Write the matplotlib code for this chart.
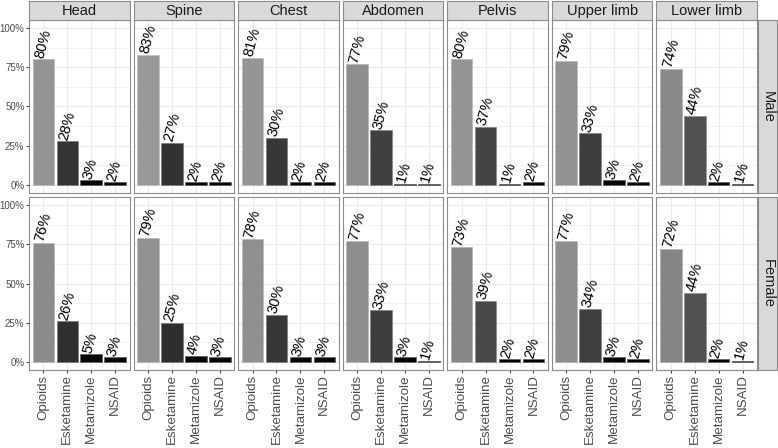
import numpy as np
import matplotlib
matplotlib.use("Agg")
import matplotlib.pyplot as plt
from matplotlib.colors import LinearSegmentedColormap, Normalize

plt.rcParams['font.family'] = ['Liberation Sans', 'DejaVu Sans']

# data (shares of patients, %)
drugs = ['Opioids', 'Esketamine', 'Metamizole', 'NSAID']
regions = ['Head', 'Spine', 'Chest', 'Abdomen', 'Pelvis', 'Upper limb', 'Lower limb']
sexes = ['Male', 'Female']

male = [
    [80, 28, 3, 2],
    [83, 27, 2, 2],
    [81, 30, 2, 2],
    [77, 35, 1, 1],
    [80, 37, 1, 2],
    [79, 33, 3, 2],
    [74, 44, 2, 1],
]
female = [
    [76, 26, 5, 3],
    [79, 25, 4, 3],
    [78, 30, 3, 3],
    [77, 33, 3, 1],
    [73, 39, 2, 2],
    [77, 34, 3, 2],
    [72, 44, 2, 1],
]
values = {'Male': male, 'Female': female}

# fill mapped to value, black -> grey60
cmap = LinearSegmentedColormap.from_list('fillgrey', ['#000000', '#999999'])
vmax = max(max(max(r) for r in male), max(max(r) for r in female)) / 100
norm = Normalize(0, vmax)

W, H = 778, 448
fig = plt.figure(figsize=(W / 100, H / 100), dpi=100)

left, right = 29, 757
gap = 4
pw = (right - left - 6 * gap) / 7
rows_y = [(20, 193), (197, 370)]
strip_top = 1
strip_r = (758, 777)

border_col = '#8c8c8c'
strip_fill = '#d9d9d9'

def px(x0, y0, x1, y1):
    # pixel box (top-left origin) -> figure fraction
    return [x0 / W, 1 - y1 / H, (x1 - x0) / W, (y1 - y0) / H]

x = np.arange(1, len(drugs) + 1)

for r, sex in enumerate(sexes):
    y0, y1 = rows_y[r]
    for c, region in enumerate(regions):
        x0 = left + c * (pw + gap)
        ax = fig.add_axes(px(x0, y0, x0 + pw, y1))
        vals = np.array(values[sex][c]) / 100
        fills = cmap(norm(vals))
        edges = fills.copy()
        edges[:, :3] = fills[:, :3] * 0.65 + 0.35
        ax.set_axisbelow(True)
        ax.bar(x, vals, width=0.9, color=fills, edgecolor=edges,
               linewidth=0.5, zorder=2)
        for xi, v in zip(x, vals):
            ax.text(xi, v + 0.003, f'{v * 100:.0f}%', rotation=75,
                    rotation_mode='anchor', ha='left', va='baseline',
                    fontsize=10.5, color='black', zorder=3)
        ax.set_xlim(0.4, 4.6)
        ax.set_ylim(-0.05, 1.05)
        ax.set_yticks([0, 0.25, 0.5, 0.75, 1.0])
        ax.set_yticks([0.125, 0.375, 0.625, 0.875], minor=True)
        ax.set_xticks(x)
        ax.grid(True, which='major', color='#ebebeb', linewidth=0.9)
        ax.grid(True, which='minor', axis='y', color='#ebebeb', linewidth=0.45)
        for s in ax.spines.values():
            s.set_color(border_col)
            s.set_linewidth(0.8)
        ax.tick_params(which='major', length=2.2, color='#444444',
                       labelcolor='#4d4d4d', pad=1)
        ax.tick_params(axis='y', labelsize=7)
        ax.tick_params(which='minor', length=0)
        if c == 0:
            ax.set_yticklabels(['0%', '25%', '50%', '75%', '100%'])
        else:
            ax.set_yticklabels([])
            ax.tick_params(axis='y', length=0)
        if r == 1:
            ax.set_xticklabels(drugs, rotation=90, fontsize=9.6, va='top')
        else:
            ax.set_xticklabels([])
            ax.tick_params(axis='x', length=0)

        # top strip
        if r == 0:
            sax = fig.add_axes(px(x0, strip_top, x0 + pw, y0))
            sax.set_facecolor(strip_fill)
            sax.set_xticks([])
            sax.set_yticks([])
            for s in sax.spines.values():
                s.set_color(border_col)
                s.set_linewidth(0.8)
            sax.text(0.5, 0.45, region, ha='center', va='center',
                     fontsize=10.5, color='#1a1a1a', transform=sax.transAxes)

    # right strip
    rax = fig.add_axes(px(strip_r[0], y0, strip_r[1], y1))
    rax.set_facecolor(strip_fill)
    rax.set_xticks([])
    rax.set_yticks([])
    for s in rax.spines.values():
        s.set_color(border_col)
        s.set_linewidth(0.8)
    rax.text(0.5, 0.5, sex, rotation=-90, ha='center', va='center',
             fontsize=10.5, color='#1a1a1a', transform=rax.transAxes)

fig.savefig('out.png', dpi=100)
